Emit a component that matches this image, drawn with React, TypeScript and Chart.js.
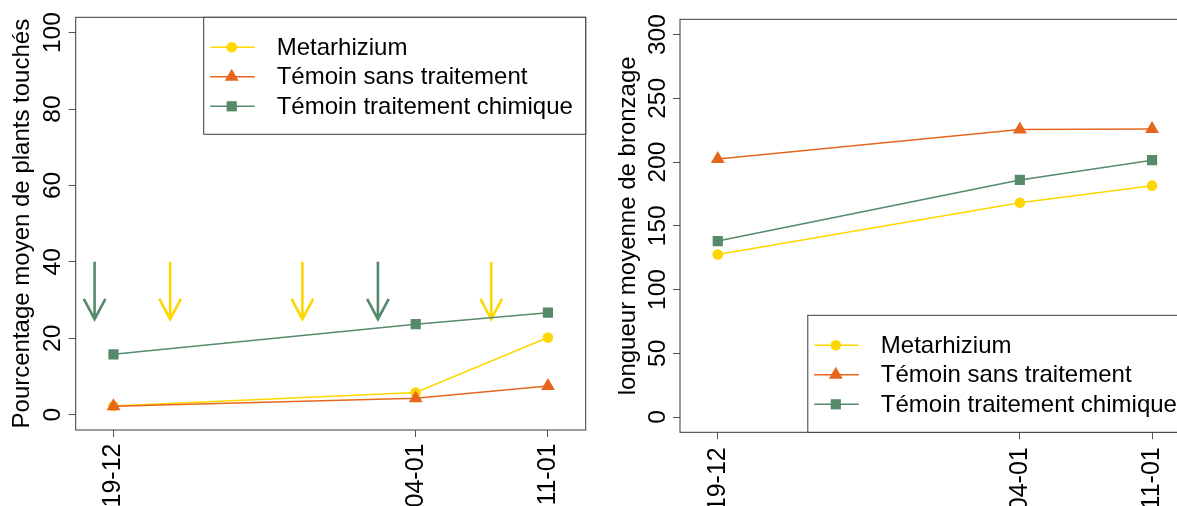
import React, { useEffect, useRef } from "react";
import { Chart, registerables } from "chart.js";

Chart.register(...registerables);

// ---- data ----
const dateLabels = ["19-12", "04-01", "11-01"];
const dayOffsets = [0, 16, 23];

const seriesNames = ["Metarhizium", "Témoin sans traitement", "Témoin traitement chimique"];
const seriesColors = ["#FFD700", "#E7661D", "#568A6B"];
const seriesMarkers = ["circle", "triangle", "rect"];
const seriesMarkerRadius = [5.3, 8, 7.2];

const pctMetarhizium = [2.3, 5.8, 20.2];
const pctSansTraitement = [2.2, 4.3, 7.5];
const pctChimique = [15.8, 23.7, 26.7];

const lenMetarhizium = [127.5, 168, 181.5];
const lenSansTraitement = [202.5, 225.5, 226];
const lenChimique = [138, 186, 201.5];

const pctTicks = [0, 20, 40, 60, 80, 100];
const lenTicks = [0, 50, 100, 150, 200, 250, 300];

const metaArrowDays = [3, 10, 20];
const chimArrowDays = [-1, 14];
const arrowFrom = 40;
const arrowTo = 25;

const FONT = '"Liberation Sans", Arial, sans-serif';
const FRAME = "#3a3a3a";
const TICKC = "#555555";

function drawMarker(ctx: CanvasRenderingContext2D, style: string, x: number, y: number, r: number, color: string) {
  ctx.fillStyle = color;
  ctx.beginPath();
  if (style === "circle") {
    ctx.arc(x, y, r, 0, Math.PI * 2);
  } else if (style === "triangle") {
    const a = (2 * Math.PI) / 3;
    ctx.moveTo(x, y - r);
    ctx.lineTo(x + r * Math.sin(a), y - r * Math.cos(a));
    ctx.lineTo(x + r * Math.sin(2 * a), y - r * Math.cos(2 * a));
  } else {
    const s = r * Math.SQRT1_2;
    ctx.rect(x - s, y - s, 2 * s, 2 * s);
  }
  ctx.closePath();
  ctx.fill();
}

const framePlugin = {
  id: "rframe",
  afterDatasetsDraw(chart: any) {
    const { ctx, chartArea: ca } = chart;
    ctx.save();
    ctx.strokeStyle = FRAME;
    ctx.lineWidth = 1;
    ctx.strokeRect(ca.left, ca.top, ca.right - ca.left, ca.bottom - ca.top);
    ctx.restore();
  },
};

const arrowPlugin = {
  id: "rarrows",
  beforeDatasetsDraw(chart: any, _args: any, opts: any) {
    if (!opts || !opts.groups) return;
    const { ctx, scales } = chart;
    ctx.save();
    ctx.lineWidth = 2.6;
    ctx.lineCap = "butt";
    for (const g of opts.groups) {
      ctx.strokeStyle = g.color;
      for (const d of g.days) {
        const x = scales.x.getPixelForValue(d);
        const y1 = scales.y.getPixelForValue(opts.from);
        const y2 = scales.y.getPixelForValue(opts.to);
        const L = 23;
        const ang = (28 * Math.PI) / 180;
        ctx.beginPath();
        ctx.moveTo(x, y1);
        ctx.lineTo(x, y2);
        ctx.moveTo(x - L * Math.sin(ang), y2 - L * Math.cos(ang));
        ctx.lineTo(x, y2);
        ctx.lineTo(x + L * Math.sin(ang), y2 - L * Math.cos(ang));
        ctx.stroke();
      }
    }
    ctx.restore();
  },
};

const legendPlugin = {
  id: "rlegend",
  afterDraw(chart: any, _args: any, opts: any) {
    const { ctx, chartArea: ca } = chart;
    const w = 382;
    const h = 117;
    const x0 = ca.right - w;
    const y0 = opts.corner === "top" ? ca.top : ca.bottom - h;
    ctx.save();
    ctx.fillStyle = "#ffffff";
    ctx.fillRect(x0, y0, w, h);
    ctx.strokeStyle = FRAME;
    ctx.lineWidth = 1;
    ctx.strokeRect(x0, y0, w, h);
    const rows = [30, 59.5, 89];
    chart.data.datasets.forEach((ds: any, i: number) => {
      const y = y0 + rows[i];
      ctx.strokeStyle = ds.borderColor;
      ctx.lineWidth = 1.5;
      ctx.beginPath();
      ctx.moveTo(x0 + 6.5, y);
      ctx.lineTo(x0 + 51, y);
      ctx.stroke();
      drawMarker(ctx, ds.pointStyle, x0 + 28, y, ds.pointRadius, ds.pointBackgroundColor);
      ctx.fillStyle = "#000";
      ctx.font = `24px ${FONT}`;
      ctx.textBaseline = "middle";
      ctx.textAlign = "left";
      ctx.fillText(ds.label, x0 + 73, y + 1);
    });
    ctx.restore();
  },
};

function makeDatasets(values: number[][]) {
  return values.map((vals, i) => ({
    label: seriesNames[i],
    data: vals.map((v, j) => ({ x: dayOffsets[j], y: v })),
    borderColor: seriesColors[i],
    backgroundColor: seriesColors[i],
    pointBackgroundColor: seriesColors[i],
    pointBorderWidth: 0,
    pointStyle: seriesMarkers[i],
    pointRadius: seriesMarkerRadius[i],
    borderWidth: 1.5,
    tension: 0,
    order: 3 - i === 3 ? 3 : 3 - i,
  }));
}

function makeConfig(p: any): any {
  return {
    type: "line",
    data: { datasets: makeDatasets(p.values) },
    options: {
      animation: false,
      responsive: false,
      maintainAspectRatio: false,
      layout: { padding: { top: p.padTop, right: p.padRight, left: 0, bottom: 0 } },
      plugins: {
        legend: { display: false },
        tooltip: { enabled: false },
        rlegend: { corner: p.legendCorner },
        rarrows: p.arrows,
      },
      scales: {
        x: {
          type: "linear",
          min: -2,
          max: 25,
          afterBuildTicks: (s: any) => {
            s.ticks = dayOffsets.map((v) => ({ value: v }));
          },
          afterFit: (s: any) => {
            s.height = p.xAxisHeight;
          },
          ticks: {
            autoSkip: false,
            minRotation: 90,
            maxRotation: 90,
            padding: p.xPad,
            color: "#000",
            font: { family: FONT, size: 25 },
            callback: (_v: any, i: number) => dateLabels[i],
          },
          grid: { drawOnChartArea: false, drawTicks: true, tickLength: 7, color: TICKC, lineWidth: 1 },
          border: { display: false },
        },
        y: {
          type: "linear",
          min: p.yMin,
          max: p.yMax,
          afterBuildTicks: (s: any) => {
            s.ticks = p.yTicks.map((v: number) => ({ value: v }));
          },
          afterFit: (s: any) => {
            s.width = p.yAxisWidth;
          },
          ticks: {
            minRotation: 90,
            maxRotation: 90,
            crossAlign: "center",
            padding: p.yPad,
            color: "#000",
            font: { family: FONT, size: 24.5 },
            callback: (v: any) => String(v),
          },
          grid: { drawOnChartArea: false, drawTicks: true, tickLength: 7, color: TICKC, lineWidth: 1 },
          border: { display: false },
          title: {
            display: true,
            text: p.yTitle,
            color: "#000",
            font: { family: FONT, size: 24 },
            padding: { top: p.titlePad, bottom: 0 },
          },
        },
      },
    },
    plugins: [framePlugin, arrowPlugin, legendPlugin],
  };
}

export default function App() {
  const leftRef = useRef<HTMLCanvasElement>(null);
  const rightRef = useRef<HTMLCanvasElement>(null);

  useEffect(() => {
    const left = new Chart(
      leftRef.current as HTMLCanvasElement,
      makeConfig({
        values: [pctMetarhizium, pctSansTraitement, pctChimique],
        padTop: 17.3,
        padRight: 14.3,
        xAxisHeight: 76,
        yAxisWidth: 75.7,
        xPad: 6.5,
        yPad: -4.7,
        titlePad: 7.5,
        yMin: -4,
        yMax: 104,
        yTicks: pctTicks,
        yTitle: "Pourcentage moyen de plants touchés",
        legendCorner: "top",
        arrows: {
          from: arrowFrom,
          to: arrowTo,
          groups: [
            { color: seriesColors[2], days: chimArrowDays },
            { color: seriesColors[0], days: metaArrowDays },
          ],
        },
      })
    );
    const right = new Chart(
      rightRef.current as HTMLCanvasElement,
      makeConfig({
        values: [lenMetarhizium, lenSansTraitement, lenChimique],
        padTop: 19.3,
        padRight: 14.2,
        xAxisHeight: 73.7,
        yAxisWidth: 76,
        xPad: 8,
        yPad: -6,
        titlePad: 9.5,
        yMin: -12,
        yMax: 312,
        yTicks: lenTicks,
        yTitle: "longueur moyenne de bronzage",
        legendCorner: "bottom",
        arrows: { groups: [] },
      })
    );
    return () => {
      left.destroy();
      right.destroy();
    };
  }, []);

  return (
    <div
      style={{
        position: "fixed",
        left: 0,
        top: 0,
        width: 1177,
        height: 506,
        overflow: "hidden",
        background: "#ffffff",
      }}
    >
      <canvas ref={leftRef} width={600} height={506} style={{ position: "absolute", left: 0, top: 0 }} />
      <canvas ref={rightRef} width={600} height={506} style={{ position: "absolute", left: 604, top: 0 }} />
    </div>
  );
}
